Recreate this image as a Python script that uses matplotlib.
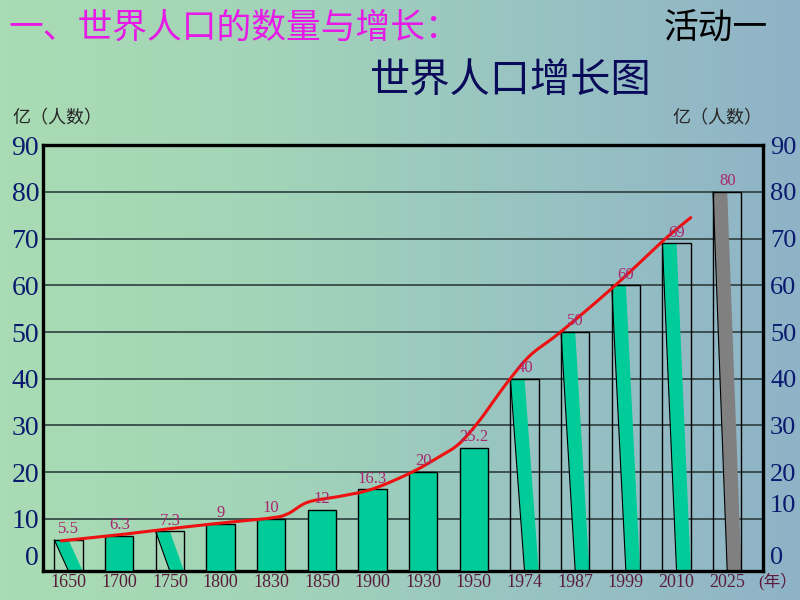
import numpy as np
import matplotlib
matplotlib.use("Agg")
import matplotlib.pyplot as plt
from matplotlib.colors import LinearSegmentedColormap
from matplotlib.transforms import ScaledTranslation

plt.rcParams['font.family'] = ['Noto Sans CJK SC', 'DejaVu Sans']

# data
years = ['1650', '1700', '1750', '1800', '1830', '1850', '1900',
         '1930', '1950', '1974', '1987', '1999', '2010', '2025']
population = [5.5, 6.3, 7.3, 9, 10, 12, 16.3, 20, 25.2, 40, 50, 60, 69, 80]
value_labels = ['5.5', '6.3', '7.3', '9', '10', '12', '16.3',
                '20', '25.2', '40', '50', '60', '69', '80']

# red trend curve (x in category units, y in 亿)
trend_x = [-0.14, 1.0, 2.0, 3.0, 4.0, 4.33, 4.73, 5.39, 6.0, 6.74,
           7.27, 7.7, 8.1, 8.48, 8.73, 9.12, 9.71, 10.77, 11.74, 12.28]
trend_y = [5.3, 6.6, 7.9, 9.1, 10.2, 11.1, 13.6, 14.9, 16.4, 19.8,
           23.0, 26.0, 30.9, 36.6, 40.2, 45.1, 50.0, 59.8, 69.6, 74.5]

# bar look: solid box, slanted green stripe, slanted grey stripe
bar_kind = ['slant', 'solid', 'slant', 'solid', 'solid', 'solid', 'solid',
            'solid', 'solid', 'slant', 'slant', 'slant', 'slant', 'grey']

GREEN = '#00cc99'
GREY = '#808080'


def smooth(xs, ys, n=20):
    pts = np.column_stack([xs, ys])
    pts = np.vstack([pts[0], pts, pts[-1]])
    out = []
    t = np.linspace(0, 1, n)[:, None]
    for i in range(1, len(pts) - 2):
        p0, p1, p2, p3 = pts[i - 1:i + 3]
        seg = 0.5 * (2 * p1 + (-p0 + p2) * t
                     + (2 * p0 - 5 * p1 + 4 * p2 - p3) * t ** 2
                     + (-p0 + 3 * p1 - 3 * p2 + p3) * t ** 3)
        out.append(seg)
    return np.vstack(out)


def lift(label, px):
    # move a tick label up by px pixels
    label.set_transform(label.get_transform()
                        + ScaledTranslation(0, px / 100, fig.dpi_scale_trans))


fig = plt.figure(figsize=(8, 6), dpi=100)

# slide background gradient
bg = fig.add_axes([0, 0, 1, 1], zorder=-10)
cmap = LinearSegmentedColormap.from_list('bg', ['#a9dcb3', '#a3d4b8', '#98c3c2', '#8fb3c7'])
grad = np.linspace(0, 1, 256).reshape(1, -1)
bg.imshow(grad, aspect='auto', cmap=cmap, extent=[0, 1, 0, 1])
bg.axis('off')

ax = fig.add_axes([0.054, 0.048, 0.9, 0.71])
ax.patch.set_alpha(0)
ymin = -1.2
ax.set_ylim(ymin, 90)
ax.set_xlim(-0.5, 13.71)

x = np.arange(len(years))
w = 0.56

for gy in range(10, 90, 10):
    ax.axhline(gy, color='#2e3e3e', lw=1.2, zorder=1)

for i, (v, kind) in enumerate(zip(population, bar_kind)):
    if kind == 'solid':
        ax.bar(x[i], v - ymin, bottom=ymin, width=w, color=GREEN,
               edgecolor='black', lw=1, zorder=3)
    else:
        c = GREEN if kind == 'slant' else GREY
        left, right = x[i] - w / 2, x[i] + w / 2
        ax.fill([left, x[i], right, x[i]], [v, v, ymin, ymin], color=c, lw=0, zorder=2)
        ax.plot([left, x[i]], [v, ymin], color='black', lw=0.8, zorder=2)
        ax.bar(x[i], v - ymin, bottom=ymin, width=w, fill=False,
               edgecolor='black', lw=1, zorder=3)

for i, (v, lab) in enumerate(zip(population, value_labels)):
    ax.annotate(lab, (x[i], v), xytext=(0, 2), textcoords='offset points',
                ha='center', va='bottom', fontsize=12, color='#a8286e',
                family='Liberation Serif', zorder=6)

curve = smooth(trend_x, trend_y)
ax.plot(curve[:, 0], curve[:, 1], color='#ee1111', lw=2.2, zorder=5,
        solid_capstyle='round')

for s in ax.spines.values():
    s.set_linewidth(2.4)
    s.set_color('black')

ax.set_xticks(x)
ax.set_xticklabels(years, family='Liberation Serif', fontsize=13, color='#5a1a3a')
ax.tick_params(axis='x', length=0, pad=2)
ax.set_yticks(range(0, 91, 10))
ax.tick_params(axis='y', length=0, pad=3, labelsize=20, labelcolor='#0a1a6e')

ax2 = ax.twinx()
ax2.set_ylim(ax.get_ylim())
ax2.set_yticks(range(0, 91, 10))
ax2.tick_params(axis='y', length=0, pad=5, labelsize=19, labelcolor='#0a1a6e')
for s in ax2.spines.values():
    s.set_visible(False)

fig.canvas.draw()
for a in (ax, ax2):
    for t in a.get_yticklabels():
        t.set_family('Liberation Serif')
# the slide nudges a few tick labels upward
lift(ax.get_yticklabels()[0], 10)
lift(ax2.get_yticklabels()[0], 10)
lift(ax2.get_yticklabels()[1], 15)

ax.text(0.993, -0.025, '(年）', transform=ax.transAxes, ha='left', va='center',
        fontsize=12, color='#5a1a3a', family=['Liberation Serif', 'Noto Sans CJK SC'])

# slide texts
fig.text(0.01, 0.953, '一、世界人口的数量与增长：', fontsize=25, color='#e619e6',
         ha='left', va='center')
fig.text(0.83, 0.953, '活动一', fontsize=25, color='black', ha='left', va='center')
fig.text(0.462, 0.865, '世界人口增长图', fontsize=29, color='#0a0a5a',
         ha='left', va='center')
fig.text(0.015, 0.803, '亿（人数）', fontsize=13, color='#262626', ha='left', va='center')
fig.text(0.84, 0.803, '亿（人数）', fontsize=13, color='#262626', ha='left', va='center')

fig.savefig('out.png', dpi=100)
